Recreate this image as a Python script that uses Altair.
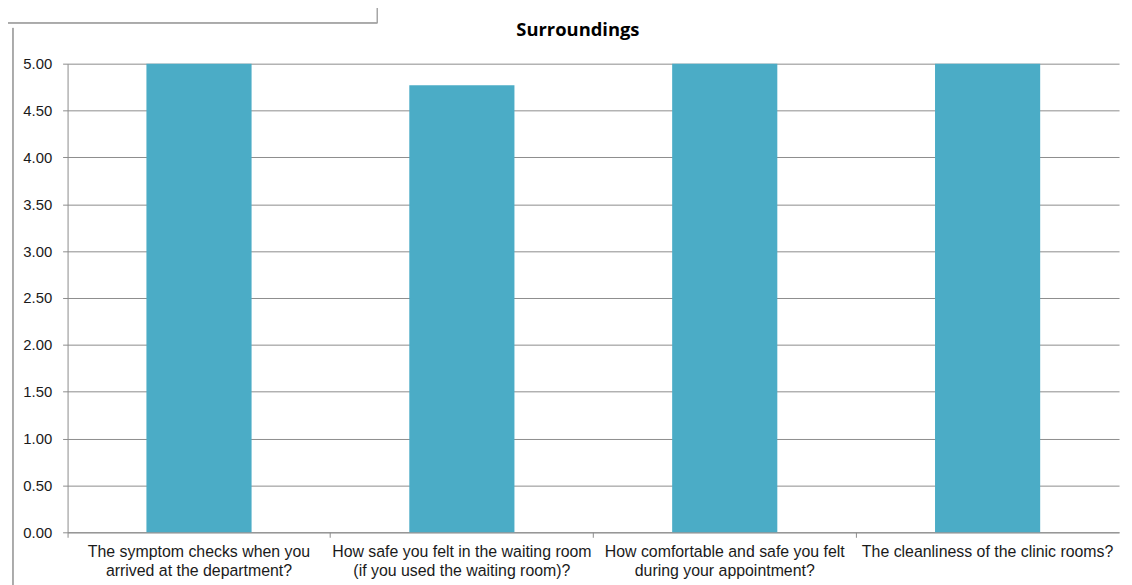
import altair as alt
import pandas as pd

categories = [
    "The symptom checks when you\narrived at the department?",
    "How safe you felt in the waiting room\n(if you used the waiting room)?",
    "How comfortable and safe you felt\nduring your appointment?",
    "The cleanliness of the clinic rooms?",
]
scores = [5.0, 4.77, 5.0, 5.0]
y_ticks = [0, 0.5, 1, 1.5, 2, 2.5, 3, 3.5, 4, 4.5, 5]
title_text = "Surroundings"

df = pd.DataFrame({"question": categories, "score": scores})
title_df = pd.DataFrame({"t": [title_text]})

GRID = "#8c8c8c"
BAR = "#4BACC6"
W, H = 1059, 472

bars = alt.Chart(df).mark_bar(color=BAR).encode(
    x=alt.X(
        "question:N",
        sort=None,
        scale=alt.Scale(paddingInner=0.6, paddingOuter=0.3),
        axis=alt.Axis(
            title=None,
            labelAngle=0,
            labelExpr="split(datum.label, '\\n')",
            labelFont="Liberation Sans",
            labelFontSize=16,
            labelColor="#1a1a1a",
            labelLineHeight=20,
            labelPadding=6,
            tickSize=5,
            tickColor=GRID,
            domainColor=GRID,
            bandPosition=-0.75,
            labelLimit=400,
        ),
    ),
    y=alt.Y(
        "score:Q",
        scale=alt.Scale(domain=[0, 5], nice=False),
        axis=alt.Axis(
            title=None,
            values=y_ticks,
            format=".2f",
            labelFont="Liberation Sans",
            labelFontSize=15,
            labelColor="#1a1a1a",
            labelPadding=11,
            tickSize=5,
            tickColor=GRID,
            domainColor=GRID,
            gridColor=GRID,
            grid=True,
        ),
    ),
)

title_mark = alt.Chart(title_df).mark_text(
    font="Open Sans", fontSize=18.5, fontWeight="bold", color="#000000",
    align="center", baseline="middle",
).encode(text="t:N", x=alt.value(514), y=alt.value(-34))

frame_color = "#a6a6a6"
left_line = alt.Chart(df).mark_rule(color=frame_color, strokeWidth=1).encode(
    x=alt.value(-55), y=alt.value(-36), y2=alt.value(H + 60)
)
box_bottom = alt.Chart(df).mark_rule(color=frame_color, strokeWidth=1).encode(
    x=alt.value(-70), x2=alt.value(312), y=alt.value(-41)
)
box_side = alt.Chart(df).mark_rule(color=frame_color, strokeWidth=1).encode(
    x=alt.value(312), y=alt.value(-60), y2=alt.value(-41)
)

chart = alt.layer(bars, title_mark, left_line, box_bottom, box_side).properties(
    width=W,
    height=H,
    autosize=alt.AutoSizeParams(type="none"),
    padding={"left": 60, "top": 54, "right": 5, "bottom": 51},
).configure_view(stroke=None)

chart.save("out.html", embed_options={"renderer": "svg", "actions": False})
